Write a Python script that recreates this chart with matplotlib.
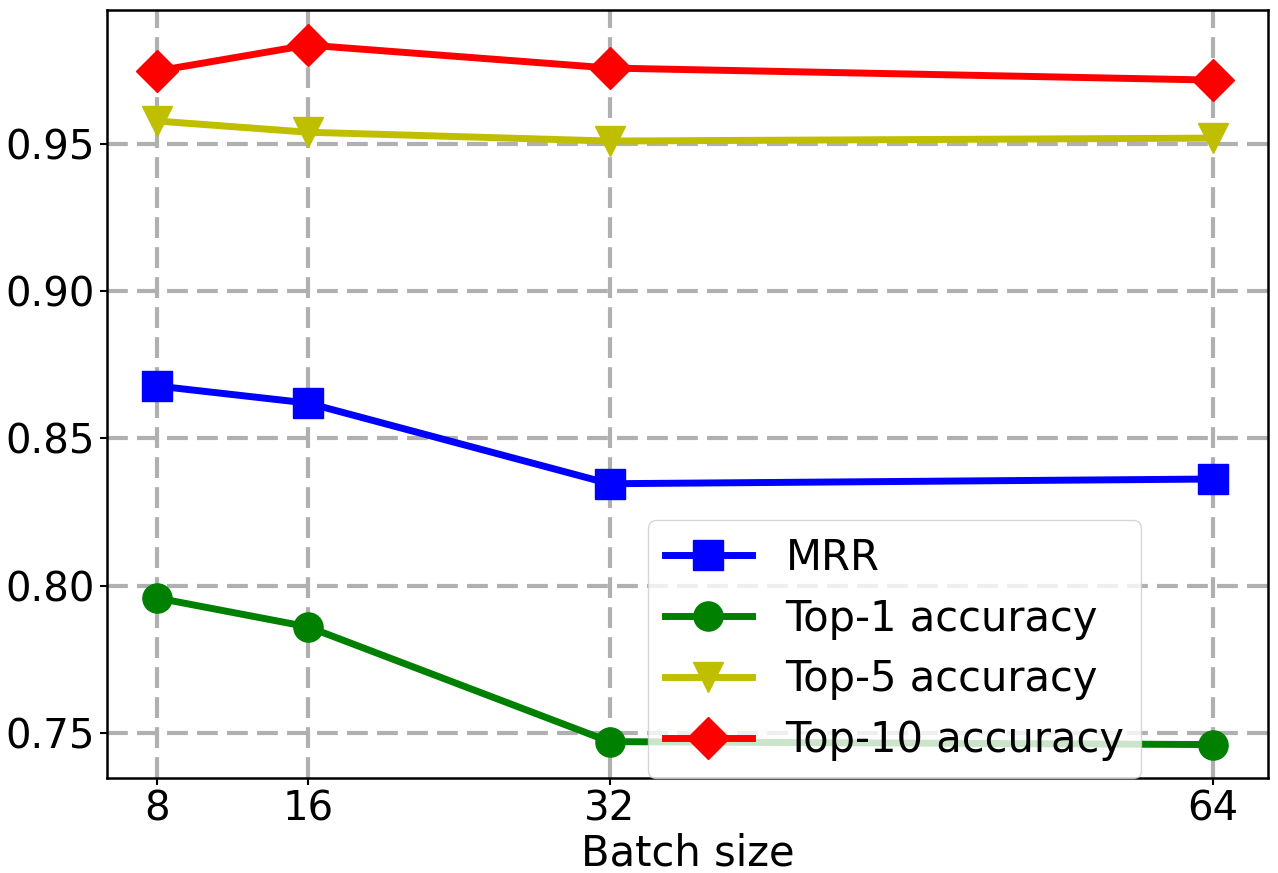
#coding=utf-8
import numpy as np
import matplotlib
matplotlib.use("Agg")
import matplotlib.pyplot as plt

batch = [8, 16, 32, 64]
mrr = [0.8678, 0.862, 0.8346, 0.8362]
top1 = [0.7958, 0.786, 0.747, 0.746]
top5 = [0.9578, 0.954, 0.951, 0.952]
top10 = [0.9748, 0.9836, 0.9758, 0.9717]
yticks = [0.75, 0.80, 0.85, 0.90, 0.95]

def main():
    fig = plt.figure(figsize=(12.78, 8.73), dpi=100)
    ax = fig.add_axes([0.0837, 0.109, 0.9083, 0.8795])

    lw, ms = 5, 21
    ax.plot(batch, mrr, "-s", color="b", lw=lw, ms=ms, label="MRR")
    ax.plot(batch, top1, "-o", color="g", lw=lw, ms=ms, label="Top-1 accuracy")
    ax.plot(batch, top5, "-v", color="y", lw=lw, ms=ms, label="Top-5 accuracy")
    ax.plot(batch, top10, "-D", color="r", lw=lw, ms=ms, label="Top-10 accuracy")

    ax.set_xticks(batch)
    ax.set_yticks(yticks)
    ax.set_yticklabels(["%.2f" % v for v in yticks])
    ax.set_xlim(5.35, 66.9)
    ax.set_ylim(0.7347, 0.9955)
    ax.tick_params(labelsize=29, width=1.5, length=5)
    ax.set_xlabel("Batch size", fontsize=30, labelpad=2)

    # 网格线
    ax.grid(True, color="#b0b0b0", linestyle=(0, (5, 2.2)), linewidth=3)
    for s in ax.spines.values():
        s.set_linewidth(1.8)

    ax.legend(loc="lower left", bbox_to_anchor=(0.466, 0.0), borderaxespad=0,
              fontsize=30, handlelength=2.1, labelspacing=0.45, framealpha=0.8)

    fig.savefig("out.png", dpi=100)

if __name__ == "__main__":
    main()
